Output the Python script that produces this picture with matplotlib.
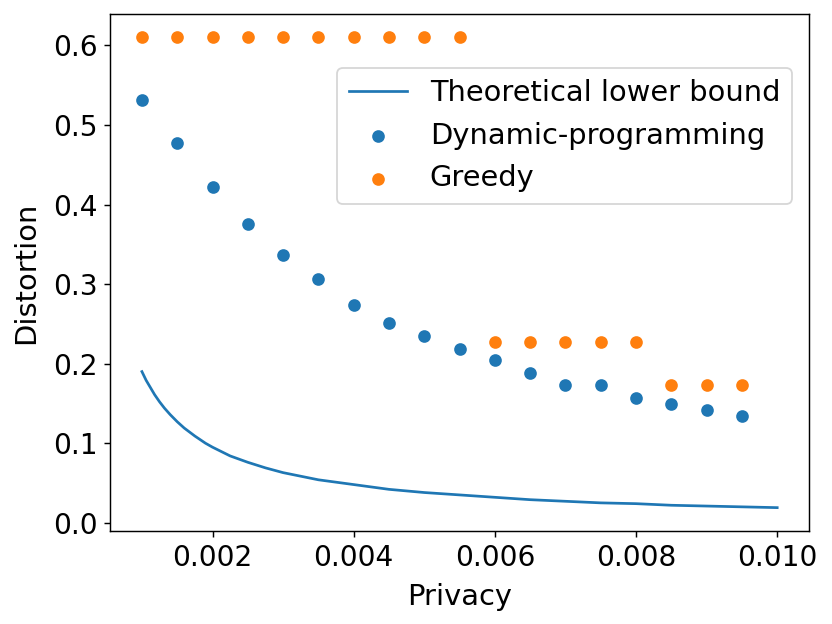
import matplotlib
matplotlib.use("Agg")
import matplotlib.pyplot as plt

# Theoretical lower bound
bound_x = [0.001, 0.00106, 0.00112, 0.00118, 0.00125, 0.00132, 0.0014, 0.0015, 0.0016, 0.00175,
           0.0019, 0.002, 0.00225, 0.0025, 0.00275, 0.003, 0.0035, 0.004, 0.0045, 0.005,
           0.0055, 0.006, 0.0065, 0.007, 0.0075, 0.008, 0.0085, 0.009, 0.0095, 0.010]
bound_y = [0.190, 0.179, 0.170, 0.161, 0.152, 0.144, 0.136, 0.127, 0.119, 0.109,
           0.100, 0.095, 0.084, 0.076, 0.069, 0.063, 0.054, 0.048, 0.042, 0.038,
           0.035, 0.032, 0.029, 0.027, 0.025, 0.024, 0.022, 0.021, 0.020, 0.019]

# Dynamic-programming
dp_x = [0.001, 0.0015, 0.002, 0.0025, 0.003, 0.0035, 0.004, 0.0045, 0.005, 0.0055,
        0.006, 0.0065, 0.007, 0.0075, 0.008, 0.0085, 0.009, 0.0095]
dp_y = [0.531, 0.477, 0.422, 0.376, 0.337, 0.306, 0.274, 0.251, 0.235, 0.219,
        0.204, 0.188, 0.173, 0.173, 0.157, 0.149, 0.142, 0.134]

# Greedy
gr_x = [0.001, 0.0015, 0.002, 0.0025, 0.003, 0.0035, 0.004, 0.0045, 0.005, 0.0055,
        0.006, 0.0065, 0.007, 0.0075, 0.008, 0.0085, 0.009, 0.0095]
gr_y = [0.610, 0.610, 0.610, 0.610, 0.610, 0.610, 0.610, 0.610, 0.610, 0.610,
        0.227, 0.227, 0.227, 0.227, 0.227, 0.173, 0.173, 0.173]

xticks = [0.002, 0.004, 0.006, 0.008, 0.010]
xtick_labels = ['0.002', '0.004', '0.006', '0.008', '0.010']

plt.rcParams['font.size'] = 15.5
fig = plt.figure(figsize=(6.4, 4.8), dpi=130)
ax = fig.add_axes([0.1324, 0.1488, 0.9723 - 0.1324, 0.9776 - 0.1488])
ax.plot(bound_x, bound_y, color='#1f77b4', label='Theoretical lower bound')
ax.scatter(dp_x, dp_y, color='#1f77b4', label='Dynamic-programming')
ax.scatter(gr_x, gr_y, color='#ff7f0e', label='Greedy')
ax.set_xlabel('Privacy', fontsize=16, labelpad=6)
ax.set_ylabel('Distortion', fontsize=16, labelpad=7)
ax.set_xticks(xticks)
ax.set_xticklabels(xtick_labels)
ax.tick_params(labelsize=15.5)
ax.legend(loc='upper right', bbox_to_anchor=(0.9756, 0.896), borderaxespad=0, fontsize=16)
fig.savefig('out.png', dpi=130)
